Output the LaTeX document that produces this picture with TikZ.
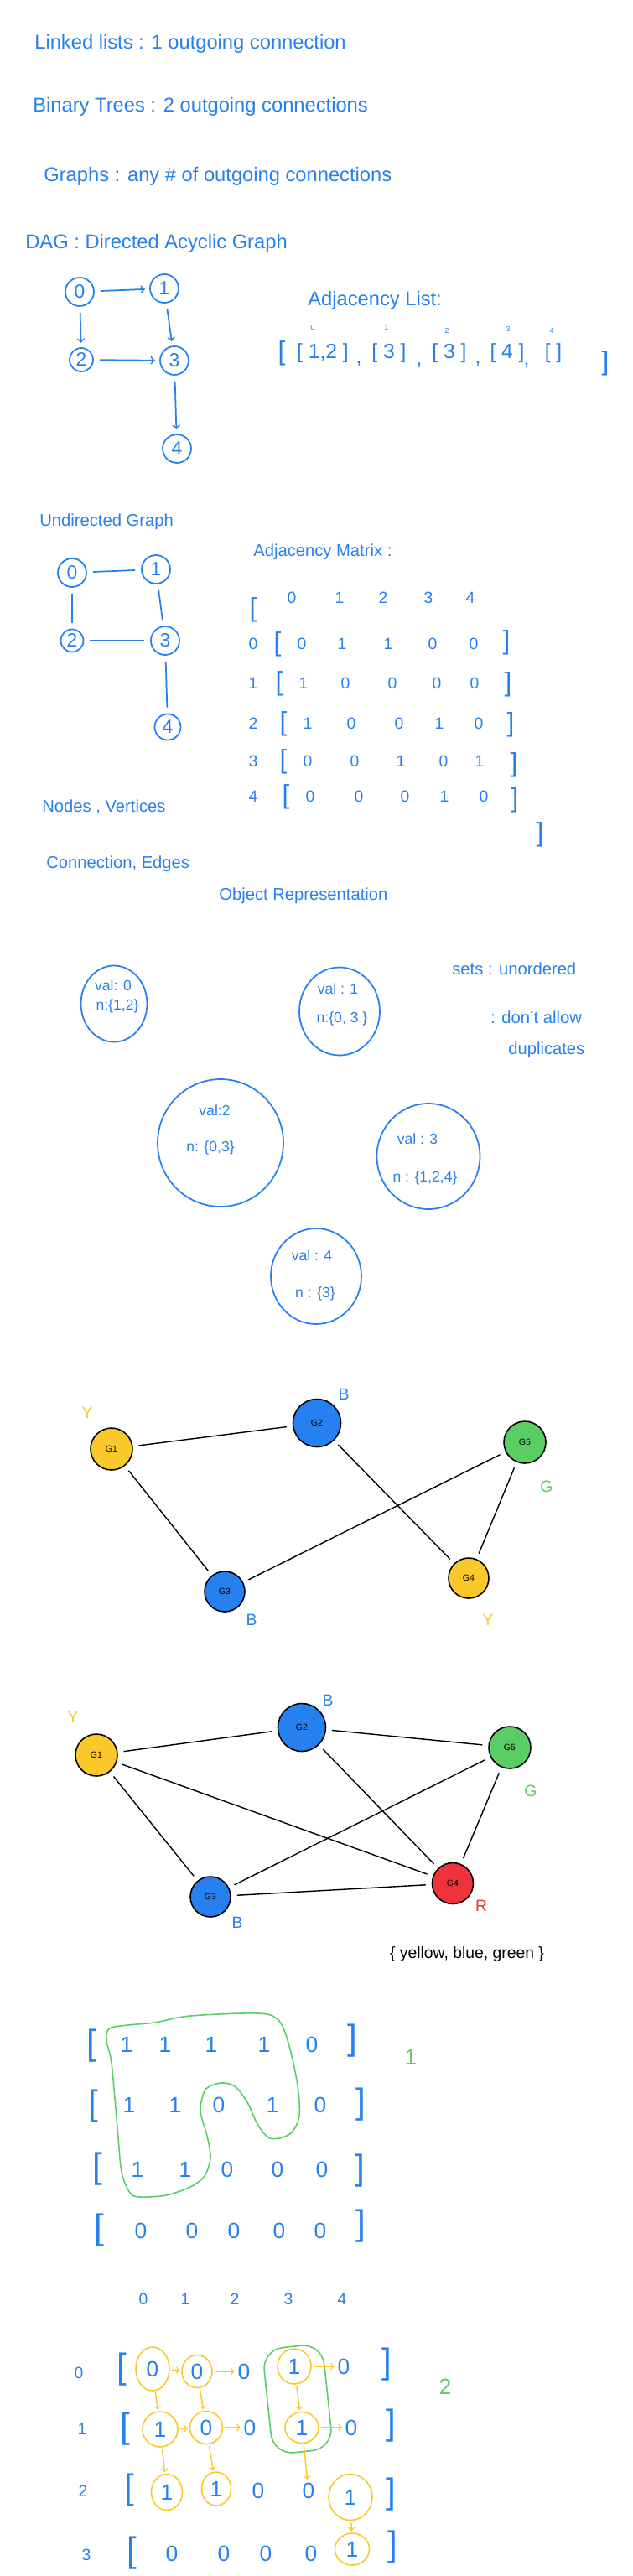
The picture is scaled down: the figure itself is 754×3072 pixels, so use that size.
\documentclass[tikz,border=0pt]{standalone}
\usepackage{fontspec}
\setmainfont{Liberation Sans}
\usetikzlibrary{shapes.geometric}

\definecolor{pen}{RGB}{38,128,240}
\definecolor{hiyel}{RGB}{250,200,40}
\definecolor{higrn}{RGB}{90,205,100}
\definecolor{hired}{RGB}{240,50,60}

\tikzset{
  head/.style={text=pen,anchor=west,inner sep=0pt,font=\fontsize{13.5}{16}\selectfont},
  note/.style={head,font=\fontsize{11.5}{14}\selectfont},
  vtx/.style={circle,draw=pen,line width=1pt,text=pen,inner sep=0pt,font=\fontsize{13}{13}\selectfont},
  arc/.style={->,draw=pen,line width=1pt,shorten <=4pt,shorten >=3pt},
  bond/.style={draw=pen,line width=1pt,shorten <=4pt,shorten >=4pt},
  cell/.style={text=pen,inner sep=1pt,font=\fontsize{11}{11}\selectfont},
  bigcell/.style={text=pen,inner sep=1pt,font=\fontsize{15}{15}\selectfont},
  brk/.style={text=pen,inner sep=0pt,font=\fontsize{18}{18}\selectfont},
  bigbrk/.style={text=pen,inner sep=0pt,font=\fontsize{24}{24}\selectfont},
  obj/.style={ellipse,draw=pen,line width=1pt,inner sep=0pt},
  objtxt/.style={text=pen,inner sep=1pt,font=\fontsize{10}{10}\selectfont},
  col/.style={circle,draw=black,line width=0.9pt,inner sep=0pt,minimum size=1cm,font=\fontsize{6}{6}\selectfont},
  tag/.style={inner sep=0pt,font=\fontsize{11}{11}\selectfont},
  tie/.style={draw=black,line width=0.8pt,shorten <=4pt,shorten >=4pt},
  ring/.style={ellipse,draw=hiyel,line width=0.9pt,inner sep=0pt},
  walk/.style={->,draw=hiyel,line width=0.8pt,shorten <=1pt,shorten >=1pt}
}

\begin{document}
\begin{tikzpicture}[x=0.02cm,y=-0.02cm]
\fill[white] (0,0) rectangle (754,3072);

\node[head] (ll) at (41,52) {Linked lists : 1 outgoing connection};
\node[head] (bt) at (39,127) {Binary Trees : 2 outgoing connections};
\node[head] (gr) at (52,210) {Graphs : any \# of outgoing connections};
\node[head] (dag) at (30,290) {DAG : Directed Acyclic Graph};

\begin{scope}[every node/.style={vtx,minimum size=0.68cm}]
  \node (d0) at (95,348) {0};
  \node (d1) at (196,344) {1};
  \node[minimum size=0.56cm] (d2) at (97,429) {2};
  \node (d3) at (208,430) {3};
  \node (d4) at (211,535) {4};
\end{scope}
\draw (d0) edge [arc] (d1);
\draw (d0) edge [arc] (d2);
\draw (d1) edge [arc] (d3);
\draw (d2) edge [arc] (d3);
\draw (d3) edge [arc] (d4);

\node[head] (al) at (367,358) {Adjacency List:};
\begin{scope}[every node/.style={text=pen,inner sep=0pt,font=\fontsize{14}{14}\selectfont}]
  \node[brk] (lo) at (336,421) {[};
  \node (l0) at (385,421) {[ 1,2 ]};
  \node (k0) at (428,434) {,};
  \node (l1) at (464,421) {[ 3 ]};
  \node (k1) at (500,436) {,};
  \node (l2) at (536,421) {[ 3 ]};
  \node (k2) at (570,434) {,};
  \node (l3) at (605,421) {[ 4 ]};
  \node (k3) at (628,436) {,};
  \node (l4) at (660,421) {[ ]};
  \node[brk] (lc) at (722,433) {]};
\end{scope}
\begin{scope}[every node/.style={text=pen,inner sep=0pt,font=\fontsize{5}{5}\selectfont}]
  \node (i0) at (373,390) {0};
  \node (i1) at (461,390) {1};
  \node (i2) at (533,394) {2};
  \node (i3) at (606,392) {3};
  \node (i4) at (658,394) {4};
\end{scope}

\node[note] (ug) at (47,622) {Undirected Graph};
\begin{scope}[every node/.style={vtx,minimum size=0.68cm}]
  \node (u0) at (86,683) {0};
  \node (u1) at (186,679) {1};
  \node[minimum size=0.54cm] (u2) at (86,764) {2};
  \node (u3) at (197,764) {3};
  \node[minimum size=0.62cm] (u4) at (200,867) {4};
\end{scope}
\draw (u0) edge [bond] (u1);
\draw (u0) edge [bond] (u2);
\draw (u1) edge [bond] (u3);
\draw (u2) edge [bond] (u3);
\draw (u3) edge [bond] (u4);

\node[note] (am) at (302,658) {Adjacency Matrix :};
\node[brk] (ao) at (302,727) {[};
\node[brk] (ac) at (644,995) {]};
\begin{scope}[every node/.style={cell}]
  \node (h0) at (348,713) {0}; \node (h1) at (405,713) {1}; \node (h2) at (457,713) {2};
  \node (h3) at (511,713) {3}; \node (h4) at (561,713) {4};
  \node (r0) at (302,768) {0}; \node (r1) at (302,815) {1}; \node (r2) at (302,863) {2};
  \node (r3) at (302,908) {3}; \node (r4) at (302,950) {4};
  \node (a00) at (360,768) {0}; \node (a01) at (408,768) {1}; \node (a02) at (463,768) {1};
  \node (a03) at (516,768) {0}; \node (a04) at (565,768) {0};
  \node (a10) at (362,815) {1}; \node (a11) at (412,815) {0}; \node (a12) at (468,815) {0};
  \node (a13) at (521,815) {0}; \node (a14) at (566,815) {0};
  \node (a20) at (367,863) {1}; \node (a21) at (419,863) {0}; \node (a22) at (476,863) {0};
  \node (a23) at (524,863) {1}; \node (a24) at (571,863) {0};
  \node (a30) at (367,908) {0}; \node (a31) at (423,908) {0}; \node (a32) at (478,908) {1};
  \node (a33) at (529,908) {0}; \node (a34) at (572,908) {1};
  \node (a40) at (370,950) {0}; \node (a41) at (428,950) {0}; \node (a42) at (483,950) {0};
  \node (a43) at (530,950) {1}; \node (a44) at (577,950) {0};
\end{scope}
\begin{scope}[every node/.style={brk}]
  \node (a0l) at (331,768) {[}; \node (a0r) at (604,766) {]};
  \node (a1l) at (333,815) {[}; \node (a1r) at (606,816) {]};
  \node (a2l) at (338,863) {[}; \node (a2r) at (609,864) {]};
  \node (a3l) at (338,908) {[}; \node (a3r) at (613,912) {]};
  \node (a4l) at (341,950) {[}; \node (a4r) at (614,954) {]};
\end{scope}

\node[note] (nv) at (50,962) {Nodes , Vertices};
\node[note] (ce) at (55,1030) {Connection, Edges};
\node[note] (or) at (261,1068) {Object Representation};

\node[obj,minimum width=1.58cm,minimum height=1.82cm] (o0) at (136,1197) {};
\node[objtxt] (o0v) at (135,1175) {val: 0};
\node[objtxt] (o0n) at (140,1200) {n:\{1,2\}};
\node[obj,minimum width=1.92cm,minimum height=2.1cm] (o1) at (405,1206) {};
\node[objtxt] (o1v) at (403,1179) {val : 1};
\node[objtxt] (o1n) at (408,1215) {n:\{0, 3 \}};
\node[obj,minimum width=3cm,minimum height=3.04cm] (o2) at (263,1363) {};
\node[objtxt] (o2v) at (256,1324) {val:2};
\node[objtxt] (o2n) at (251,1369) {n: \{0,3\}};
\node[obj,minimum width=2.46cm,minimum height=2.52cm] (o3) at (511,1379) {};
\node[objtxt] (o3v) at (498,1358) {val : 3};
\node[objtxt] (o3n) at (507,1405) {n : \{1,2,4\}};
\node[obj,minimum width=2.16cm,minimum height=2.28cm] (o4) at (377,1522) {};
\node[objtxt] (o4v) at (372,1497) {val : 4};
\node[objtxt] (o4n) at (376,1543) {n : \{3\}};

\node[note] (su) at (539,1155) {sets : unordered};
\node[note] (sd) at (585,1213) {: don't allow};
\node[note] (sp) at (606,1252) {duplicates};

\node[col,fill=hiyel] (g1) at (133,1728) {G1};
\node[col,fill=pen,minimum size=1.14cm] (g2) at (378,1697) {G2};
\node[col,fill=higrn] (g5) at (626,1720) {G5};
\node[col,fill=pen,minimum size=0.96cm] (g3) at (268,1898) {G3};
\node[col,fill=hiyel,minimum size=0.96cm] (g4) at (559,1882) {G4};
\node[tag,text=hiyel] (g1c) at (104,1685) {Y};
\node[tag,text=pen] (g2c) at (410,1663) {B};
\node[tag,text=higrn] (g5c) at (652,1773) {G};
\node[tag,text=pen] (g3c) at (300,1932) {B};
\node[tag,text=hiyel] (g4c) at (582,1932) {Y};
\draw (g1) edge [tie] (g2);
\draw (g1) edge [tie] (g3);
\draw (g2) edge [tie] (g4);
\draw (g5) edge [tie] (g3);
\draw (g5) edge [tie] (g4);

\node[col,fill=hiyel] (c1) at (115,2093) {G1};
\node[col,fill=pen,minimum size=1.14cm] (c2) at (360,2060) {G2};
\node[col,fill=higrn] (c5) at (608,2084) {G5};
\node[col,fill=pen,minimum size=0.96cm] (c3) at (251,2262) {G3};
\node[col,fill=hired,minimum size=0.98cm] (c4) at (540,2246) {G4};
\node[tag,text=hiyel] (c1c) at (87,2048) {Y};
\node[tag,text=pen] (c2c) at (391,2028) {B};
\node[tag,text=higrn] (c5c) at (633,2136) {G};
\node[tag,text=pen] (c3c) at (283,2293) {B};
\node[tag,text=hired] (c4c) at (574,2273) {R};
\draw (c1) edge [tie] (c2);
\draw (c1) edge [tie] (c3);
\draw (c1) edge [tie] (c4);
\draw (c2) edge [tie] (c5);
\draw (c2) edge [tie] (c4);
\draw (c5) edge [tie] (c3);
\draw (c5) edge [tie] (c4);
\draw (c4) edge [tie] (c3);
\node[tag] (pal) at (557,2330) {\{ yellow, blue, green \}};

\draw[higrn,line width=0.9pt] plot[smooth cycle] coordinates {(133,2418) (184,2412) (227,2404)
  (309,2401) (333,2410) (345,2440) (355,2487) (357,2523) (348,2543) (333,2550) (320,2549)
  (307,2533) (295,2507) (280,2488) (263,2484) (245,2492) (239,2517) (247,2547) (251,2573)
  (244,2595) (227,2608) (198,2618) (167,2620) (155,2615) (145,2590) (140,2537) (133,2460)
  (127,2433)};
\begin{scope}[every node/.style={bigcell}]
  \node (q00) at (151,2438) {1}; \node (q01) at (197,2438) {1}; \node (q02) at (252,2438) {1};
  \node (q03) at (315,2438) {1}; \node (q04) at (372,2438) {0};
  \node (q10) at (154,2510) {1}; \node (q11) at (209,2510) {1}; \node (q12) at (261,2510) {0};
  \node (q13) at (325,2510) {1}; \node (q14) at (382,2510) {0};
  \node (q20) at (164,2587) {1}; \node (q21) at (221,2587) {1}; \node (q22) at (271,2587) {0};
  \node (q23) at (331,2587) {0}; \node (q24) at (384,2587) {0};
  \node (q30) at (168,2660) {0}; \node (q31) at (229,2660) {0}; \node (q32) at (279,2660) {0};
  \node (q33) at (333,2660) {0}; \node (q34) at (382,2660) {0};
\end{scope}
\begin{scope}[every node/.style={bigbrk}]
  \node (q0l) at (109,2440) {[}; \node (q0r) at (420,2434) {]};
  \node (q1l) at (111,2512) {[}; \node (q1r) at (430,2510) {]};
  \node (q2l) at (116,2587) {[}; \node (q2r) at (429,2589) {]};
  \node (q3l) at (118,2660) {[}; \node (q3r) at (430,2655) {]};
\end{scope}
\node[bigcell,text=higrn] (cnt1) at (490,2453) {1};

\begin{scope}[every node/.style={cell}]
  \node (t0) at (171,2742) {0}; \node (t1) at (221,2742) {1}; \node (t2) at (280,2742) {2};
  \node (t3) at (344,2742) {3}; \node (t4) at (408,2742) {4};
  \node (s0) at (94,2830) {0}; \node (s1) at (98,2897) {1};
  \node (s2) at (99,2971) {2}; \node (s3) at (103,3047) {3};
\end{scope}
\node[draw=higrn,line width=0.9pt,rounded corners=0.5cm,rotate=6,minimum width=1.44cm,
  minimum height=2.52cm] (isl) at (355,2861) {};
\begin{scope}[every node/.style={bigcell}]
  \node[ring,minimum width=0.8cm,minimum height=1.04cm] (b00) at (182,2825) {0};
  \node[ring,minimum width=0.72cm,minimum height=0.78cm] (b01) at (235,2828) {0};
  \node (b02) at (291,2828) {0};
  \node[ring,minimum width=0.8cm,minimum height=0.84cm] (b03) at (351,2822) {1};
  \node (b04) at (410,2822) {0};
  \node[ring,minimum width=0.84cm,minimum height=0.84cm] (b10) at (191,2897) {1};
  \node[ring,minimum width=0.78cm,minimum height=0.78cm] (b11) at (246,2895) {0};
  \node (b12) at (298,2895) {0};
  \node[ring,minimum width=0.8cm,minimum height=0.74cm] (b13) at (360,2895) {1};
  \node (b14) at (419,2895) {0};
  \node[ring,minimum width=0.74cm,minimum height=0.86cm] (b20) at (199,2972) {1};
  \node[ring,minimum width=0.7cm,minimum height=0.8cm] (b21) at (258,2968) {1};
  \node (b22) at (308,2970) {0};
  \node (b23) at (368,2970) {0};
  \node[ring,minimum width=1.04cm,minimum height=1.1cm] (b24) at (418,2978) {1};
  \node (b30) at (205,3045) {0}; \node (b31) at (267,3045) {0}; \node (b32) at (317,3045) {0};
  \node (b33) at (371,3045) {0};
  \node[ring,minimum width=0.82cm,minimum height=0.76cm] (b34) at (420,3040) {1};
\end{scope}
\begin{scope}[every node/.style={bigbrk}]
  \node (b0l) at (145,2826) {[}; \node (b0r) at (461,2820) {]};
  \node (b1l) at (149,2897) {[}; \node (b1r) at (466,2893) {]};
  \node (b2l) at (154,2970) {[}; \node (b2r) at (466,2975) {]};
  \node (b3l) at (157,3045) {[}; \node (b3r) at (468,3038) {]};
\end{scope}
\draw (b00) edge [walk] (b01);
\draw (b01) edge [walk] (b02);
\draw (b03) edge [walk] (b04);
\draw (b00) edge [walk] (b10);
\draw (b01) edge [walk] (b11);
\draw (b03) edge [walk] (b13);
\draw (b10) edge [walk] (b11);
\draw (b11) edge [walk] (b12);
\draw (b13) edge [walk] (b14);
\draw (b10) edge [walk] (b20);
\draw (b11) edge [walk] (b21);
\draw (b13) edge [walk] (b23);
\draw (b24) edge [walk] (b34);
\node[bigcell,text=higrn] (cnt2) at (531,2846) {2};
\end{tikzpicture}
\end{document}
